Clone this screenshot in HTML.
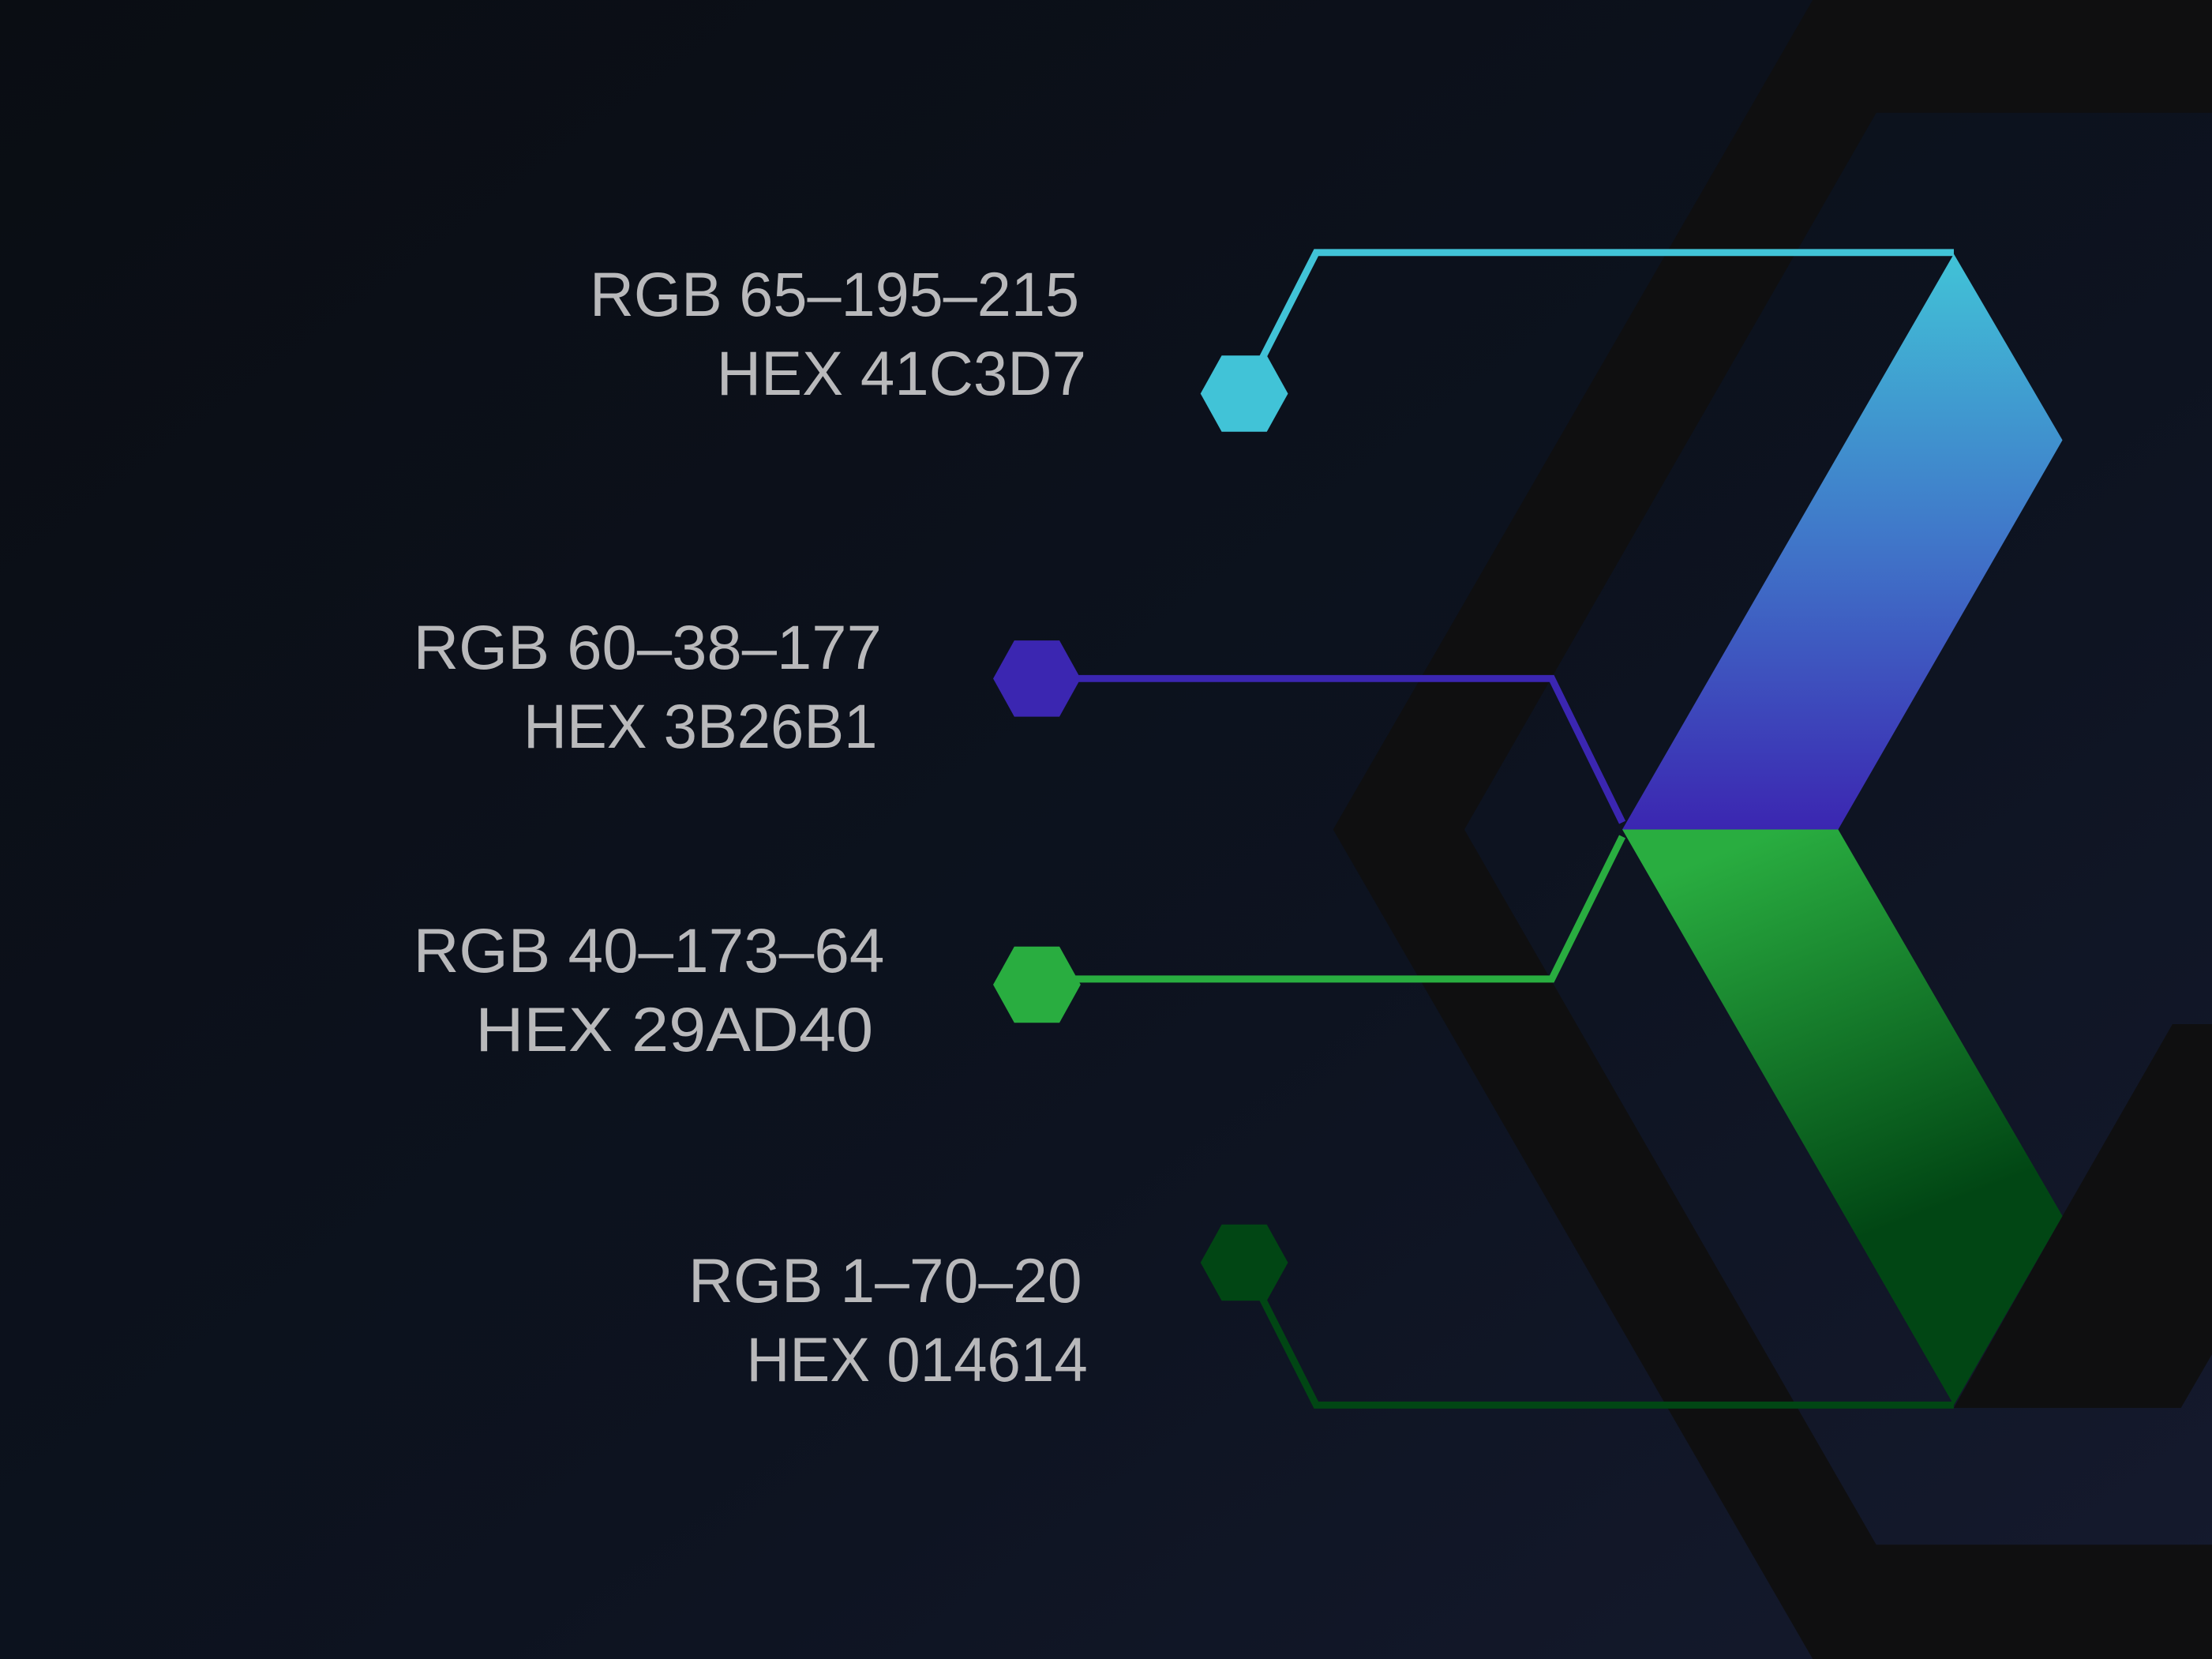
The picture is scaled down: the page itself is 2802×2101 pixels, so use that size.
<!DOCTYPE html>
<html><head><meta charset="utf-8"><style>
html,body{margin:0;padding:0;background:#0b0f17;}
svg{display:block;}
text{font-family:"Liberation Sans",sans-serif;fill:#b9b9bb;font-size:44px;}
</style></head><body>
<svg width="2802" height="2101" viewBox="0 0 1568 1176" preserveAspectRatio="none" xmlns="http://www.w3.org/2000/svg">
<defs>
<linearGradient id="bg" x1="0" y1="0" x2="1" y2="1">
<stop offset="0" stop-color="#0a0d13"/><stop offset="0.6" stop-color="#0d1320"/><stop offset="1" stop-color="#151a2e"/>
</linearGradient>
<linearGradient id="top" x1="0" y1="0" x2="0" y2="1">
<stop offset="0" stop-color="#41c3d7"/><stop offset="0.5" stop-color="#4076c9"/><stop offset="1" stop-color="#3b26b1"/>
</linearGradient>
<linearGradient id="bot" x1="0" y1="0" x2="0.3" y2="1">
<stop offset="0.1" stop-color="#29ad40"/><stop offset="0.8" stop-color="#014614"/>
</linearGradient>
</defs>
<rect width="1568" height="1176" fill="url(#bg)"/>
<!-- big hexagon band -->
<path fill="#0f0f10" fill-rule="evenodd" d="M1285,0 L1568,0 L1568,1176 L1285,1176 L945,588 Z M1330,80 L1568,80 L1568,1095 L1330,1095 L1038,588 Z"/>
<path fill="#0f0f10" d="M1540,726 L1568,726 L1568,960 L1546,998 L1385,998 L1462,862 Z"/>
<!-- chevron -->
<path fill="url(#top)" d="M1385,180 L1462,312 L1303,588 L1150,588 Z"/>
<path fill="url(#bot)" d="M1150,588 L1303,588 L1462,862 L1385,996 Z"/>
<!-- connectors -->
<g fill="none" stroke-width="5">
<path stroke="#41c3d7" d="M882,279 L933,179 L1385,179"/>
<path stroke="#3b26b1" d="M750,481 L1100,481 L1150,583"/>
<path stroke="#29ad40" d="M750,694 L1100,694 L1150,593"/>
<path stroke="#014614" d="M882,895 L933,996 L1385,996"/>
</g>
<!-- hexes -->
<polygon fill="#41c3d7" points="851,279 866,252 898,252 913,279 898,306 866,306"/>
<polygon fill="#3b26b1" points="704,481 719,454 751,454 766,481 751,508 719,508"/>
<polygon fill="#29ad40" points="704,698 719,671 751,671 766,698 751,725 719,725"/>
<polygon fill="#014614" points="851,895 866,868 898,868 913,895 898,922 866,922"/>
<!-- labels -->
<g text-anchor="end">
<text x="765" y="224" textLength="347" lengthAdjust="spacingAndGlyphs">RGB 65–195–215</text>
<text x="770" y="280" textLength="262" lengthAdjust="spacingAndGlyphs">HEX  41C3D7</text>
<text x="625" y="474" textLength="332" lengthAdjust="spacingAndGlyphs">RGB 60–38–177</text>
<text x="622" y="530" textLength="251" lengthAdjust="spacingAndGlyphs">HEX 3B26B1</text>
<text x="627" y="689" textLength="334" lengthAdjust="spacingAndGlyphs">RGB 40–173–64</text>
<text x="619" y="745" textLength="282" lengthAdjust="spacingAndGlyphs">HEX  29AD40</text>
<text x="767" y="923" textLength="279" lengthAdjust="spacingAndGlyphs">RGB 1–70–20</text>
<text x="771" y="979" textLength="242" lengthAdjust="spacingAndGlyphs">HEX 014614</text>
</g>
</svg>
</body></html>
